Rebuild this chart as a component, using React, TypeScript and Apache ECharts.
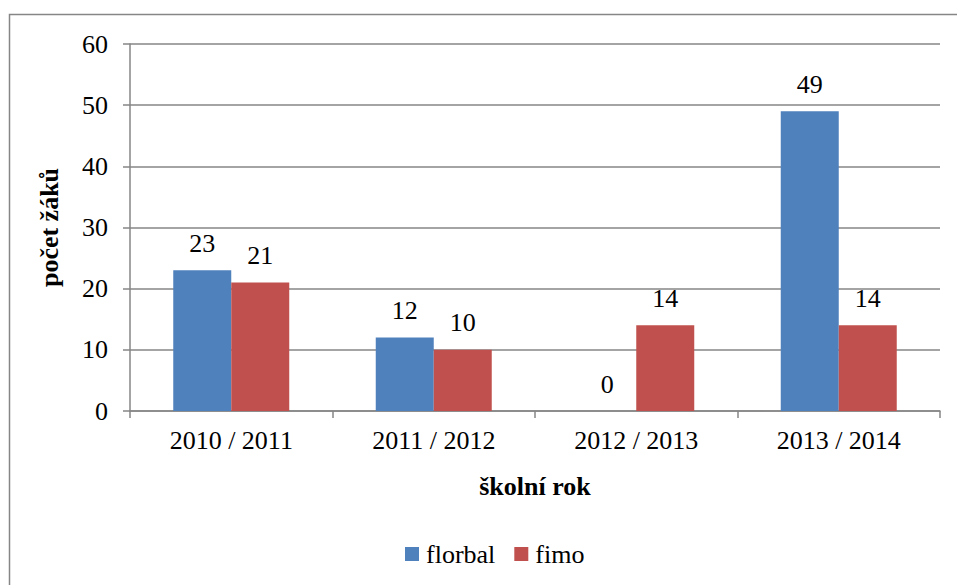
import React, { useEffect, useRef } from "react";
import * as echarts from "echarts";

const categories = ["2010 / 2011", "2011 / 2012", "2012 / 2013", "2013 / 2014"];
const florbal = [23, 12, 0, 49];
const fimo = [21, 10, 14, 14];
const seriesNames = ["florbal", "fimo"];
const yTicks = { min: 0, max: 60, interval: 10 };

const FONT = "Liberation Serif";
const GRAY = "#868686";

export default function App() {
  const ref = useRef<HTMLDivElement>(null);
  useEffect(() => {
    if (!ref.current) return;
    const chart = echarts.init(ref.current, undefined, { renderer: "svg" });
    const label = {
      show: true,
      position: "top" as const,
      distance: 14,
      color: "#000",
      fontFamily: FONT,
      fontSize: 26,
    };
    chart.setOption({
      animation: false,
      textStyle: { fontFamily: FONT },
      graphic: [
        {
          type: "rect",
          shape: { x: 9.5, y: 14.5, width: 1000, height: 700 },
          style: { fill: "none", stroke: GRAY, lineWidth: 1.5 },
          silent: true,
        },
      ],
      grid: { left: 130, right: 17, top: 44, bottom: 174, containLabel: false },
      legend: {
        data: seriesNames,
        left: 400,
        top: 536,
        itemWidth: 14,
        itemHeight: 14,
        itemGap: 19,
        icon: "rect",
        textStyle: { fontFamily: FONT, fontSize: 26, color: "#000", padding: [0, 0, 0, 2] },
      },
      xAxis: {
        type: "category",
        data: categories,
        name: "školní rok",
        nameLocation: "middle",
        nameGap: 62,
        nameTextStyle: { fontFamily: FONT, fontSize: 26, fontWeight: "bold", color: "#000" },
        axisLine: { lineStyle: { color: GRAY, width: 1.5 } },
        axisTick: { show: true, length: 7, lineStyle: { color: GRAY, width: 1.5 } },
        axisLabel: { fontFamily: FONT, fontSize: 26, color: "#000", margin: 16 },
      },
      yAxis: {
        type: "value",
        min: yTicks.min,
        max: yTicks.max,
        interval: yTicks.interval,
        name: "počet žáků",
        nameLocation: "middle",
        nameGap: 68,
        nameRotate: 90,
        nameTextStyle: { fontFamily: FONT, fontSize: 26, fontWeight: "bold", color: "#000" },
        axisLine: { show: true, lineStyle: { color: GRAY, width: 1.5 } },
        axisTick: { show: true, length: 7, lineStyle: { color: GRAY, width: 1.5 } },
        axisLabel: { fontFamily: FONT, fontSize: 26, color: "#000", margin: 22 },
        splitLine: { lineStyle: { color: GRAY, width: 1.5 } },
      },
      series: [
        {
          name: seriesNames[0],
          type: "bar",
          data: florbal,
          barWidth: 58,
          barGap: "0%",
          itemStyle: { color: "#4F81BD" },
          label,
        },
        {
          name: seriesNames[1],
          type: "bar",
          data: fimo,
          barWidth: 58,
          barGap: "0%",
          itemStyle: { color: "#C0504D" },
          label,
        },
      ],
    });
    return () => chart.dispose();
  }, []);
  return (
    <div
      ref={ref}
      style={{ position: "fixed", left: 0, top: 0, width: 957, height: 585, background: "#fff" }}
    />
  );
}
